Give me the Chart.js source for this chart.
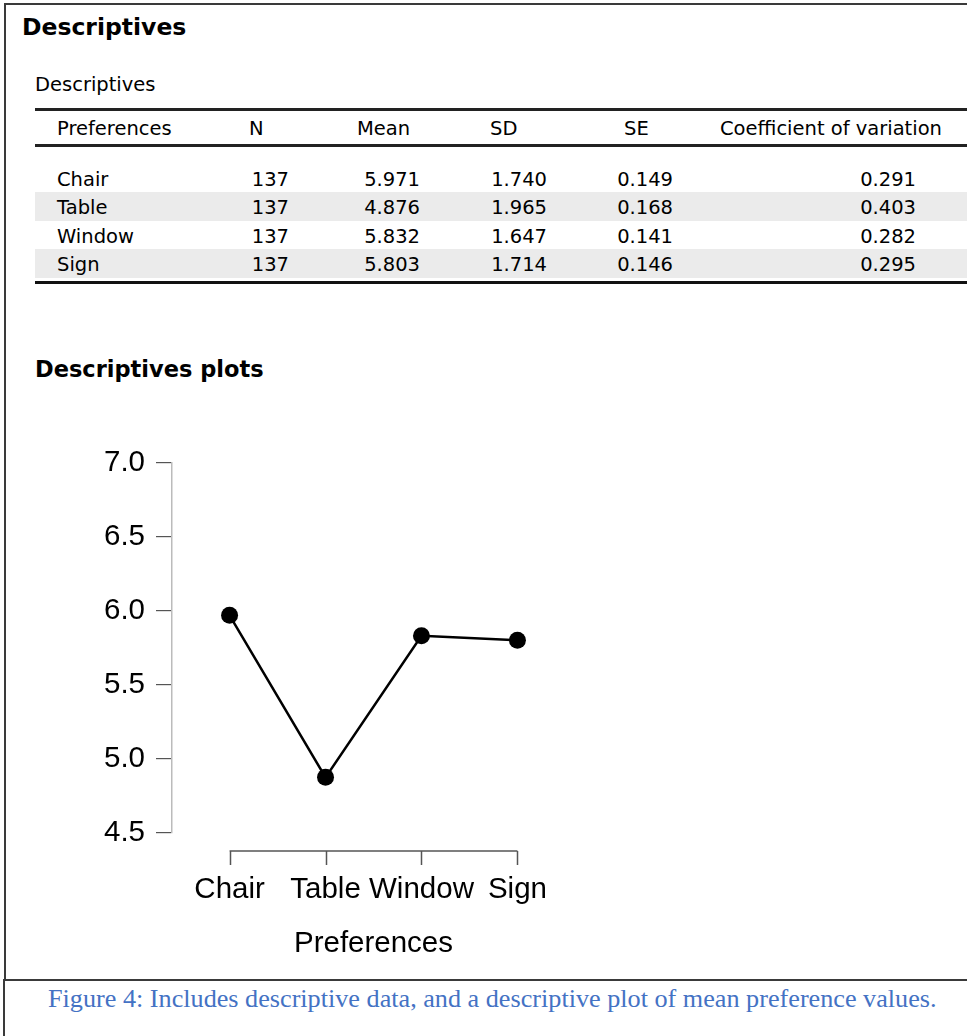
<!DOCTYPE html>
<html>
<head>
<meta charset="utf-8">
<script src="https://cdn.jsdelivr.net/npm/chart.js@4/dist/chart.umd.min.js"></script>
<style>
  html, body { margin: 0; padding: 0; background: #fff; }
  body { width: 967px; height: 1036px; position: relative; overflow: hidden; font-family: "DejaVu Sans", sans-serif; color: #000; }
  .abs { position: absolute; white-space: nowrap; }
  #frame { position: absolute; left: 4px; top: 3px; width: 980px; height: 974px; border-left: 2px solid #3a3a3a; border-top: 2px solid #3a3a3a; border-bottom: 2px solid #3a3a3a; }
  #capframe { position: absolute; left: 3px; top: 979px; height: 60px; border-left: 2px solid #3a3a3a; }
  .title { font-weight: bold; font-size: 23.5px; line-height: 23.5px; }
  .sub { font-size: 19.5px; line-height: 19.5px; }
  .cell { font-size: 19.5px; line-height: 19.5px; }
  .rule { position: absolute; left: 35px; width: 940px; background: #222; }
  .band { position: absolute; left: 35px; width: 940px; height: 28.5px; background: #ebebeb; }
  #caption { font-family: "Liberation Serif", serif; font-size: 26.2px; line-height: 26.2px; color: #4472c4; left: 48px; top: 986px; }
  #plotbox { position: absolute; left: 0; top: 430px; width: 620px; height: 545px; }
</style>
</head>
<body>
<div id="frame"></div>
<div id="capframe"></div>
<div class="abs title" style="left:22px; top:16px;">Descriptives</div>
<div class="abs sub" style="left:35px; top:75px;">Descriptives</div>
<div id="table"></div>
<div class="abs title" style="left:35px; top:358px; font-size:22.5px; line-height:22.5px;">Descriptives plots</div>
<div id="plotbox"><canvas id="plot" width="620" height="545"></canvas></div>
<div id="caption" class="abs">Figure 4: Includes descriptive data, and a descriptive plot of mean preference values.</div>

<script>
// data
var headers = ["Preferences", "N", "Mean", "SD", "SE", "Coefficient of variation"];
var categories = ["Chair", "Table", "Window", "Sign"];
var nValues = [137, 137, 137, 137];
var means = [5.971, 4.876, 5.832, 5.803];
var sds = [1.740, 1.965, 1.647, 1.714];
var ses = [0.149, 0.168, 0.141, 0.146];
var cvs = [0.291, 0.403, 0.282, 0.295];
var yTicks = [4.5, 5.0, 5.5, 6.0, 6.5, 7.0];

// table
var tbl = document.getElementById('table');
var headerX = [57, 249, 357, 490, 624, 720];
var valueRight = [null, 289, 420, 547, 673, 916];
var rowTop = 163.5, rowH = 28.5;

function addDiv(html, cls, style) {
  var d = document.createElement('div');
  d.className = cls;
  d.setAttribute('style', style);
  d.textContent = html;
  tbl.appendChild(d);
  return d;
}

addDiv('', 'rule', 'top:107.5px; height:3px;');
addDiv('', 'rule', 'top:143.5px; height:3px;');
for (var i = 0; i < categories.length; i++) {
  if (i % 2 === 1) addDiv('', 'band', 'top:' + (rowTop + rowH * i) + 'px;');
}
addDiv('', 'rule', 'top:281px; height:3px; background:#111;');

headers.forEach(function(h, c) {
  addDiv(h, 'abs cell', 'left:' + headerX[c] + 'px; top:118.5px;');
});

categories.forEach(function(cat, i) {
  var top = rowTop + rowH * i + 6;
  var vals = [nValues[i].toString(), means[i].toFixed(3), sds[i].toFixed(3), ses[i].toFixed(3), cvs[i].toFixed(3)];
  addDiv(cat, 'abs cell', 'left:57px; top:' + top + 'px;');
  vals.forEach(function(v, c) {
    addDiv(v, 'abs cell', 'right:' + (967 - valueRight[c + 1]) + 'px; top:' + top + 'px;');
  });
});

// x axis drawn JASP style: only between first and last category, below the plot
var jaspXAxis = {
  id: 'jaspXAxis',
  afterDraw: function(chart) {
    var xs = chart.scales.x;
    var ctx = chart.ctx;
    var y0 = chart.chartArea.bottom + 18;
    var x1 = xs.getPixelForValue(1);
    var x2 = xs.getPixelForValue(categories.length);
    ctx.save();
    ctx.strokeStyle = '#555';
    ctx.lineWidth = 1.5;
    ctx.beginPath();
    ctx.moveTo(x1, y0);
    ctx.lineTo(x2, y0);
    for (var i = 1; i <= categories.length; i++) {
      var px = Math.round(xs.getPixelForValue(i)) + 0.5;
      ctx.moveTo(px, y0);
      ctx.lineTo(px, y0 + 14);
    }
    ctx.stroke();
    ctx.restore();
  }
};

var ctx = document.getElementById('plot').getContext('2d');
var chart = new Chart(ctx, {
  type: 'line',
  data: {
    datasets: [{
      data: means.map(function(m, i) { return { x: i + 1, y: m }; }),
      borderColor: '#000',
      backgroundColor: '#000',
      borderWidth: 2.5,
      pointRadius: 8.5,
      pointHoverRadius: 8.5,
      pointBorderWidth: 0,
      tension: 0,
      clip: false
    }]
  },
  options: {
    responsive: false,
    animation: false,
    events: [],
    layout: { padding: { top: 33, right: 45, left: 0, bottom: 0 } },
    plugins: { legend: { display: false }, tooltip: { enabled: false } },
    scales: {
      x: {
        type: 'linear',
        min: 0.4,
        max: 4.6,
        grid: { display: false },
        border: { display: false },
        afterBuildTicks: function(scale) {
          scale.ticks = categories.map(function(c, i) { return { value: i + 1 }; });
        },
        afterFit: function(scale) { scale.height = 142; },
        ticks: {
          autoSkip: false,
          maxRotation: 0,
          padding: 31,
          color: '#000',
          font: { family: 'Liberation Sans', size: 29.5 },
          callback: function(v) { return categories[v - 1]; }
        },
        title: {
          display: true,
          text: 'Preferences',
          color: '#000',
          font: { family: 'Liberation Sans', size: 29.5 },
          padding: { top: 0, bottom: 13 }
        }
      },
      y: {
        min: yTicks[0],
        max: yTicks[yTicks.length - 1],
        afterBuildTicks: function(scale) {
          scale.ticks = yTicks.map(function(v) { return { value: v }; });
        },
        afterFit: function(scale) { scale.width = 172; },
        grid: { display: true, drawOnChartArea: false, drawTicks: true, tickLength: 16, color: '#555', lineWidth: 1.2 },
        border: { display: true, color: '#bbb', width: 1.5 },
        ticks: {
          padding: 11,
          color: '#000',
          font: { family: 'Liberation Sans', size: 29.5 },
          callback: function(v) { return v.toFixed(1); }
        }
      }
    }
  },
  plugins: [jaspXAxis]
});
</script>
</body>
</html>
